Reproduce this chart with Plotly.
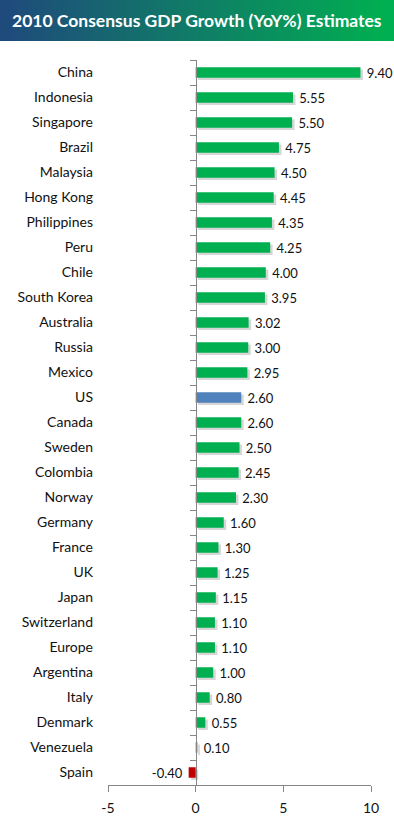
import plotly.graph_objects as go

countries = ["China", "Indonesia", "Singapore", "Brazil", "Malaysia", "Hong Kong",
             "Philippines", "Peru", "Chile", "South Korea", "Australia", "Russia",
             "Mexico", "US", "Canada", "Sweden", "Colombia", "Norway", "Germany",
             "France", "UK", "Japan", "Switzerland", "Europe", "Argentina", "Italy",
             "Denmark", "Venezuela", "Spain"]
growth = [9.40, 5.55, 5.50, 4.75, 4.50, 4.45, 4.35, 4.25, 4.00, 3.95, 3.02, 3.00,
          2.95, 2.60, 2.60, 2.50, 2.45, 2.30, 1.60, 1.30, 1.25, 1.15, 1.10, 1.10,
          1.00, 0.80, 0.55, 0.10, -0.40]
x_ticks = [-5, 0, 5, 10]
x_tick_labels = ["-5", "0", "5", "10"]
title_text = "2010 Consensus GDP Growth (YoY%) Estimates"

GREEN = "#00B050"
BLUE = "#4F81BD"
RED = "#C00000"
colors = [BLUE if c == "US" else (RED if v < 0 else GREEN) for c, v in zip(countries, growth)]

W, H = 394, 821
xmin, xmax = -5, 10
xdom = [108 / W, 371 / W]
ydom = [36 / H, (H - 60) / H]
n = len(countries)
yrange = [n - 0.5, -0.5]
zero_pos = xdom[0] + (0 - xmin) / (xmax - xmin) * (xdom[1] - xdom[0])
bar_w = 0.42
px_per_unit = (xdom[1] - xdom[0]) * W / (xmax - xmin)
shadow_dx = 2.5 / px_per_unit

font_family = "Lato, 'Open Sans', sans-serif"
NB = "\u00a0"
labels = [(NB + f"{v:.2f}") if v >= 0 else (f"{v:.2f}" + NB) for v in growth]

fig = go.Figure()

# soft drop shadow behind the bars
fig.add_trace(go.Bar(
    x=growth, y=countries, orientation="h", base=shadow_dx,
    marker=dict(color="rgba(0,0,0,0.16)", line=dict(width=0)),
    width=bar_w, offset=-bar_w / 2 + 0.09,
    hoverinfo="skip", showlegend=False,
))

fig.add_trace(go.Bar(
    x=growth, y=countries, orientation="h",
    marker=dict(color=colors, line=dict(width=0)),
    width=bar_w, offset=-bar_w / 2,
    text=labels,
    textposition="outside",
    constraintext="none",
    cliponaxis=False,
    textfont=dict(size=13, color="#111111", family=font_family),
    hoverinfo="skip",
    showlegend=False,
))

# invisible trace to populate the zero-line category axis
fig.add_trace(go.Scatter(
    x=growth, y=countries, yaxis="y2", mode="markers",
    marker=dict(opacity=0), hoverinfo="skip", showlegend=False,
))

# title band gradient
grad = [list(range(60))]
fig.add_trace(go.Heatmap(
    z=grad, xaxis="x3", yaxis="y3", zsmooth="best", showscale=False,
    colorscale=[[0, "#1F4A7C"], [1, "#00B050"]], hoverinfo="skip",
))

fig.update_layout(
    width=W, height=H,
    margin=dict(l=0, r=0, t=0, b=0),
    paper_bgcolor="white", plot_bgcolor="white",
    font=dict(family=font_family, color="#111111"),
    barmode="overlay",
    xaxis=dict(
        domain=xdom, range=[xmin, xmax], tickvals=x_ticks, ticktext=x_tick_labels,
        showgrid=False, zeroline=False,
        showline=True, linecolor="#868686", linewidth=1,
        ticks="outside", ticklen=6, tickcolor="#868686",
        tickfont=dict(size=14, color="#111111"),
        ticklabelstandoff=4,
        anchor="y", automargin=False,
    ),
    yaxis=dict(
        domain=ydom, type="category", categoryorder="array", categoryarray=countries,
        range=yrange, showgrid=False, zeroline=False, showline=False, ticks="",
        tickfont=dict(size=14, color="#111111"),
        ticklabelstandoff=14,
        anchor="x", automargin=False,
    ),
    yaxis2=dict(
        overlaying="y", anchor="free", position=zero_pos, side="left",
        type="category", categoryorder="array", categoryarray=countries,
        range=yrange, showgrid=False, zeroline=False,
        showline=True, linecolor="#868686", linewidth=1,
        ticks="outside", tickson="boundaries", ticklen=6, tickcolor="#868686",
        showticklabels=False, automargin=False,
    ),
    xaxis3=dict(domain=[0, 1], anchor="y3", range=[-0.5, 59.5], visible=False, fixedrange=True),
    yaxis3=dict(domain=[(H - 41) / H, 1], anchor="x3", range=[-0.5, 0.5], visible=False, fixedrange=True),
    annotations=[dict(
        text=f"<b>{title_text}</b>", xref="paper", yref="paper",
        x=0.5, y=1 - 20.5 / H, xanchor="center", yanchor="middle",
        showarrow=False, font=dict(size=17.5, color="white", family=font_family),
    )],
)

fig.write_html(
    "out.html",
    config={"displayModeBar": False, "staticPlot": True},
    post_script="document.body.style.margin='0';document.body.style.overflow='hidden';",
)
